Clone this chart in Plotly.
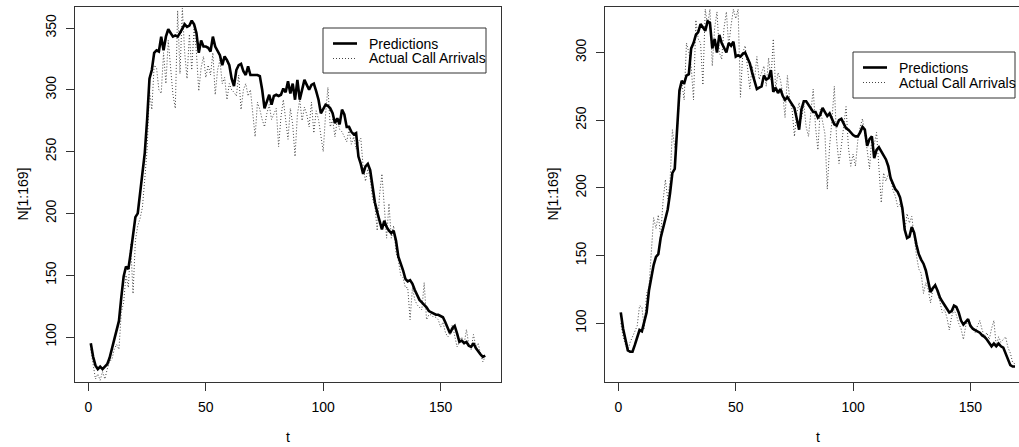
import plotly.graph_objects as go

# =========================================
# data

t = list(range(1, 170))

pred_left = [
    95, 84, 77, 74, 76, 74, 76, 78, 83, 90,
    99, 105, 113, 132, 149, 157, 155, 168, 185, 197,
    200, 216, 230, 249, 276, 309, 316, 330, 332, 331,
    343, 332, 343, 349, 346, 343, 344, 343, 346, 350,
    353, 351, 352, 356, 353, 346, 330, 340, 335, 335,
    334, 331, 343, 335, 332, 328, 320, 327, 324, 320,
    309, 303, 316, 320, 321, 315, 312, 319, 312, 312,
    312, 312, 311, 300, 285, 291, 296, 288, 295, 296,
    295, 296, 301, 298, 307, 297, 305, 292, 308, 292,
    299, 308, 304, 300, 304, 305, 299, 292, 281, 285,
    288, 287, 285, 281, 273, 277, 272, 284, 280, 270,
    270, 266, 264, 265, 246, 240, 232, 238, 240, 235,
    222, 209, 201, 195, 187, 194, 189, 186, 184, 186,
    178, 165, 160, 154, 147, 145, 146, 143, 138, 134,
    130, 128, 126, 124, 121, 120, 119, 118, 118, 117,
    116, 112, 107, 103, 107, 109, 103, 96, 97, 95,
    96, 93, 92, 95, 91, 88, 86, 84, 85,
]

actual_left = [
    90, 78, 66, 70, 65, 72, 66, 74, 80, 82,
    90, 94, 90, 120, 128, 150, 140, 175, 135, 178,
    190, 196, 205, 228, 252, 300, 284, 320, 318, 300,
    297, 330, 305, 340, 318, 296, 285, 364, 313, 366,
    330, 309, 345, 316, 350, 330, 299, 318, 327, 310,
    320, 312, 330, 296, 316, 324, 305, 310, 292, 305,
    300, 298, 295, 312, 284, 300, 305, 295, 300, 280,
    262, 290, 284, 276, 270, 281, 288, 276, 280, 285,
    254, 278, 292, 275, 260, 285, 272, 246, 280, 292,
    275, 286, 280, 270, 290, 265, 283, 276, 262, 250,
    280, 302, 270, 276, 262, 276, 268, 266, 262, 258,
    268, 256, 262, 252, 258, 261, 238, 226, 236, 228,
    212, 206, 186, 215, 232, 204, 180, 208, 180, 190,
    168, 162, 150, 148, 140, 140, 114, 140, 130, 126,
    124, 122, 144, 114, 118, 118, 116, 116, 114, 108,
    112, 104, 100, 102, 110, 100, 92, 96, 100, 94,
    106, 94, 90, 102, 92, 95, 86, 80, 84,
]

pred_right = [
    108, 96, 88, 80, 79, 79, 84, 90, 95, 94,
    101, 108, 124, 133, 143, 149, 151, 163, 170, 177,
    184, 196, 211, 214, 240, 272, 279, 277, 283, 284,
    303, 307, 313, 315, 321, 318, 316, 323, 322, 303,
    310, 300, 313, 307, 304, 300, 307, 305, 308, 297,
    298, 297, 299, 300, 296, 292, 285, 278, 273, 274,
    275, 283, 280, 281, 287, 271, 274, 270, 273, 268,
    265, 267, 264, 262, 259, 251, 243, 258, 264, 264,
    261, 258, 256, 256, 252, 254, 259, 256, 253, 255,
    251, 247, 246, 250, 251, 248, 244, 243, 241, 239,
    238, 238, 241, 245, 243, 231, 236, 238, 222, 228,
    230, 227, 225, 221, 216, 207, 203, 199, 197, 193,
    185, 169, 163, 164, 171, 167, 158, 151, 147, 144,
    139, 132, 123, 126, 128, 124, 119, 116, 113, 110,
    108, 109, 113, 112, 108, 102, 99, 101, 103, 98,
    96, 95, 94, 93, 91, 90, 88, 85, 83, 85,
    83, 85, 83, 82, 78, 74, 69, 68, 68,
]

actual_right = [
    100, 90, 84, 80, 86, 90, 95, 98, 113, 112,
    96, 122, 126, 150, 178, 170, 180, 164, 190, 206,
    192, 205, 243, 230, 240, 266, 278, 265, 307, 300,
    290, 265, 324, 310, 307, 276, 332, 320, 332, 290,
    318, 330, 300, 295, 318, 330, 305, 320, 332, 325,
    332, 267, 300, 305, 288, 273, 290, 280, 297, 280,
    285, 290, 275, 296, 280, 310, 273, 285, 280, 270,
    252, 283, 265, 258, 238, 255, 263, 251, 262, 245,
    238, 255, 273, 245, 228, 258, 250, 240, 199, 231,
    250, 275, 235, 218, 231, 245, 260, 230, 216, 225,
    216, 235, 245, 251, 241, 228, 214, 238, 232, 241,
    215, 189, 211, 205, 210, 208, 198, 194, 186, 188,
    182, 168, 181, 174, 179, 164, 150, 140, 137, 122,
    130, 125, 115, 125, 130, 122, 116, 108, 110, 104,
    95, 105, 110, 106, 100, 96, 88, 98, 102, 100,
    96, 93, 98, 102, 95, 90, 93, 88, 96, 102,
    83, 90, 86, 88, 90, 82, 78, 71, 70,
]

x_ticks = [0, 50, 100, 150]
y_ticks_left = [100, 150, 200, 250, 300, 350]
y_ticks_right = [100, 150, 200, 250, 300]
legend_labels = ["Predictions", "Actual Call Arrivals"]

# =========================================

W, H = 1019, 447
FONT = "Liberation Sans, Arial, sans-serif"
FS = 14
AXC = "#333333"
dot_style = dict(color="#444444", width=1, dash="1px,2px")
solid_style = dict(color="black", width=2.6)


def px(x):
    return x / W


def py(y):
    return 1 - y / H


fig = go.Figure()

# left panel: N first (dotted), then predictions on top
fig.add_trace(go.Scatter(x=t, y=actual_left, mode="lines", line=dot_style,
                         xaxis="x", yaxis="y", showlegend=False))
fig.add_trace(go.Scatter(x=t, y=pred_left, mode="lines", line=solid_style,
                         xaxis="x", yaxis="y", showlegend=False))

# right panel
fig.add_trace(go.Scatter(x=t, y=actual_right, mode="lines", line=dot_style,
                         xaxis="x2", yaxis="y2", showlegend=False))
fig.add_trace(go.Scatter(x=t, y=pred_right, mode="lines", line=solid_style,
                         xaxis="x2", yaxis="y2", showlegend=False))

ax_common = dict(showgrid=False, zeroline=False, showline=True,
                 linecolor=AXC, linewidth=1, ticks="outside",
                 ticklen=8, tickcolor=AXC, tickwidth=1,
                 tickfont=dict(family=FONT, size=FS, color="black"),
                 automargin=False)

ydom = [py(382), py(7)]

fig.update_layout(
    width=W, height=H,
    margin=dict(l=0, r=0, t=0, b=0),
    paper_bgcolor="white", plot_bgcolor="white",
    showlegend=False,
    xaxis=dict(domain=[px(75), px(501)], range=[-5.72, 175.72],
               tickvals=x_ticks, mirror=True, anchor="y",
               ticklabelstandoff=4, **ax_common),
    yaxis=dict(domain=ydom, range=[63.6, 367], tickvals=y_ticks_left,
               tickangle=-90, mirror=True, anchor="x",
               ticklabelstandoff=4, **ax_common),
    xaxis2=dict(domain=[px(605), 1.0], range=[-5.72, 170.7],
                tickvals=x_ticks, mirror=True, anchor="y2",
                ticklabelstandoff=4, **ax_common),
    yaxis2=dict(domain=ydom, range=[56.6, 333.6], tickvals=y_ticks_right,
                tickangle=-90, mirror=False, anchor="x2",
                ticklabelstandoff=4, **ax_common),
)

# axis titles, placed like R's base graphics
for xc in [22, 552]:
    fig.add_annotation(text="N[1:169]", x=px(xc), y=py(194.5),
                       xref="paper", yref="paper", showarrow=False,
                       xanchor="center", yanchor="middle", textangle=-90,
                       font=dict(family=FONT, size=FS, color="black"))
for xc in [288, 818]:
    fig.add_annotation(text="t", x=px(xc), y=py(437),
                       xref="paper", yref="paper", showarrow=False,
                       xanchor="center", yanchor="middle",
                       font=dict(family=FONT, size=FS, color="black"))

# R-style legend boxes drawn by hand: (left, top, right, bottom)
for L, T, R, B in [(323, 28, 486, 73), (853, 52, 1015, 98)]:
    fig.add_shape(type="rect", xref="paper", yref="paper",
                  x0=px(L), x1=px(R), y0=py(B), y1=py(T),
                  line=dict(color=AXC, width=1), fillcolor="white", layer="above")
    rows = [T + 15.5, T + 30.5]
    styles = [solid_style, dot_style]
    for yy, lab, st in zip(rows, legend_labels, styles):
        fig.add_shape(type="line", xref="paper", yref="paper",
                      x0=px(L + 10), x1=px(L + 34), y0=py(yy), y1=py(yy),
                      line=st, layer="above")
        fig.add_annotation(text=lab, x=px(L + 44), y=py(yy), xref="paper",
                           yref="paper", xanchor="left", yanchor="middle",
                           showarrow=False,
                           font=dict(family=FONT, size=FS, color="black"))

# page body has a default 8px margin; drop it so the figure sits at 0,0
fig.write_html("out.html", config={"displayModeBar": False},
               post_script="document.body.style.margin='0px';")
